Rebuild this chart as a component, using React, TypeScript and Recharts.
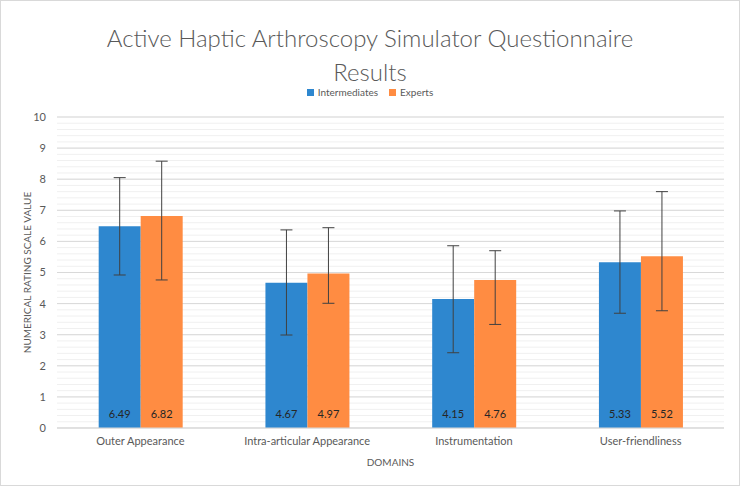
import React from "react";
import {
  BarChart,
  Bar,
  XAxis,
  YAxis,
  CartesianGrid,
  ErrorBar,
  LabelList,
} from "recharts";

// ─── Data ─────────────────────────────────────────────────────────────────────

const domains = [
  "Outer Appearance",
  "Intra-articular Appearance",
  "Instrumentation",
  "User-friendliness",
];
const intermediates = [6.49, 4.67, 4.15, 5.33];
const experts = [6.82, 4.97, 4.76, 5.52];
// [minus, plus] error amounts
const intermediatesErr = [
  [1.57, 1.56],
  [1.68, 1.7],
  [1.73, 1.71],
  [1.64, 1.65],
];
const expertsErr = [
  [2.06, 1.76],
  [0.96, 1.47],
  [1.43, 0.94],
  [1.75, 2.08],
];
const yTicks = [0, 1, 2, 3, 4, 5, 6, 7, 8, 9, 10];
const minorTicks = Array.from({ length: 51 }, (_, i) => +(i * 0.2).toFixed(1));

const data = domains.map((name, i) => ({
  name,
  intermediates: intermediates[i],
  experts: experts[i],
  intErr: intermediatesErr[i],
  expErr: expertsErr[i],
}));

// ─── Style ────────────────────────────────────────────────────────────────────

const BLUE = "#2e87cf";
const ORANGE = "#ff8c42";
const FONT = "Lato, 'Open Sans', sans-serif";
const GREY = "#595959";

const titleLine: React.CSSProperties = {
  position: "absolute",
  left: 0,
  width: 738,
  textAlign: "center",
  fontSize: 24,
  fontWeight: 300,
  lineHeight: "26px",
  color: GREY,
};

export default function App() {
  return (
    <div
      style={{
        position: "absolute",
        left: 0,
        top: 0,
        width: 738,
        height: 484,
        border: "1px solid #d9d9d9",
        background: "#fff",
        fontFamily: FONT,
      }}
    >
      <div style={{ ...titleLine, top: 24 }}>
        Active Haptic Arthroscopy Simulator Questionnaire
      </div>
      <div style={{ ...titleLine, top: 58 }}>Results</div>

      <div
        style={{
          position: "absolute",
          top: 85,
          left: 0,
          width: 738,
          display: "flex",
          justifyContent: "center",
          gap: 11,
          fontSize: 10,
          lineHeight: "12px",
          color: GREY,
        }}
      >
        {[
          ["Intermediates", BLUE],
          ["Experts", ORANGE],
        ].map(([label, color]) => (
          <span key={label} style={{ display: "flex", alignItems: "center" }}>
            <span
              style={{
                width: 7,
                height: 7,
                background: color,
                marginRight: 4,
                display: "inline-block",
              }}
            />
            {label}
          </span>
        ))}
      </div>

      <div style={{ position: "absolute", left: -1, top: -1 }}>
        <BarChart
          width={740}
          height={486}
          data={data}
          margin={{ top: 117, right: 16, bottom: 10, left: 10 }}
          barGap={0}
          barCategoryGap="25%"
        >
          <CartesianGrid
            vertical={false}
            stroke="#f0f0f0"
            horizontalValues={minorTicks}
          />
          <CartesianGrid
            vertical={false}
            stroke="#d9d9d9"
            horizontalValues={yTicks}
          />
          <XAxis
            dataKey="name"
            height={48}
            tickSize={0}
            tickMargin={9}
            axisLine={{ stroke: "#d9d9d9" }}
            tick={{ fill: GREY, fontSize: 11, fontFamily: FONT }}
            label={{
              value: "DOMAINS",
              position: "insideBottom",
              offset: 10,
              fill: GREY,
              fontSize: 10,
              fontFamily: FONT,
            }}
          />
          <YAxis
            width={47}
            domain={[0, 10]}
            ticks={yTicks}
            interval={0}
            tickSize={0}
            tickMargin={11}
            axisLine={false}
            tick={{ fill: GREY, fontSize: 11, fontFamily: FONT }}
            label={{
              value: "NUMERICAL RATING SCALE VALUE",
              angle: -90,
              position: "insideLeft",
              offset: 17,
              fill: GREY,
              fontSize: 10,
              fontFamily: FONT,
              style: { textAnchor: "middle" },
            }}
          />
          <Bar dataKey="intermediates" fill={BLUE} isAnimationActive={false}>
            <LabelList
              dataKey="intermediates"
              position="insideBottom"
              offset={10}
              fill="#262626"
              fontSize={11}
              fontFamily={FONT}
            />
            <ErrorBar
              dataKey="intErr"
              width={6}
              stroke="#404040"
              strokeWidth={1}
              isAnimationActive={false}
            />
          </Bar>
          <Bar dataKey="experts" fill={ORANGE} isAnimationActive={false}>
            <LabelList
              dataKey="experts"
              position="insideBottom"
              offset={10}
              fill="#262626"
              fontSize={11}
              fontFamily={FONT}
            />
            <ErrorBar
              dataKey="expErr"
              width={6}
              stroke="#404040"
              strokeWidth={1}
              isAnimationActive={false}
            />
          </Bar>
        </BarChart>
      </div>
    </div>
  );
}
